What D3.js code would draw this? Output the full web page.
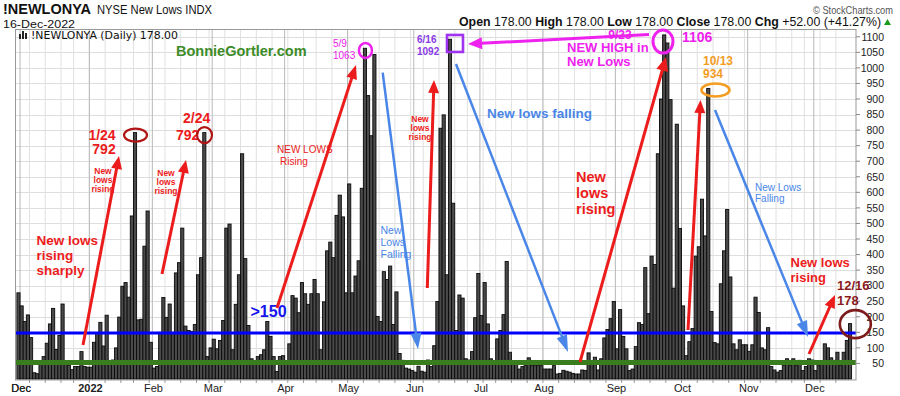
<!DOCTYPE html>
<html><head><meta charset="utf-8">
<script src="https://cdn.jsdelivr.net/npm/d3@7"></script>
<style>body{margin:0;background:#fff;} svg{display:block;}</style>
</head><body>
<svg id="c" width="900" height="396"></svg>
<script>
// ---------- DATA ----------
const newLows = [277,235,185,206,133,20,17,50,72,115, 177,227,95,140,241,52,45,30,40,40,
 88,40,38,38,118,149,182,106,205,50, 61,100,199,298,310,263,524,792,190,192,
 427,540,118,35,40,150,262,198,241,150, 341,374,485,170,156,153,175,335,390,792,
 72,100,128,97,124,188,485,498,94,240, 335,724,387,172,65,48,72,78,94,185,
 137,72,24,72,75,48,113,268,260,213, 310,274,240,274,320,274,94,248,412,440,
 390,526,591,521,277,627,277,331,380,613, 1063,911,782,1043,201,185,345,320,363,175,
 280,82,60,35,32,27,22,41,25,22, 61,40,107,249,806,849,335,1092,565,156,
 270,260,65,61,88,197,339,204,310,177, 65,54,129,156,207,378,86,48,48,32,
 40,43,68,43,43,43,43,32,32,32, 43,16,18,28,25,22,18,16,16,29,
 27,84,59,70,29,65,132,159,194,249, 97,223,137,97,27,32,104,181,175,358,
 210,395,368,724,900,1106,1080,898,292,819, 484,235,75,120,162,395,425,578,460,934,
 217,117,113,306,412,545,328,113,94,126, 110,110,89,110,263,214,100,94,165,40,
 29,22,27,45,65,43,65,43,60,27, 40,65,61,27,45,50,113,100,68,60,
 86,45,86,124,178];
const startDate = "2021-11-30";
const endDate = "2022-12-16";
const holidays = ["2021-12-24","2022-01-17","2022-02-21","2022-04-15","2022-05-30","2022-06-20","2022-07-04","2022-09-05","2022-11-24"];
const yTicks = [50,100,150,200,250,300,350,400,450,500,550,600,650,700,750,800,850,900,950,1000,1050,1100];
const greenLevel = 53;
const blueLevel = 148;

// ---------- trading calendar ----------
const fmt = d3.utcFormat("%Y-%m-%d");
const hol = new Set(holidays);
const days = [];
for (let d = d3.utcParse("%Y-%m-%d")(startDate); d <= d3.utcParse("%Y-%m-%d")(endDate); d = d3.utcDay.offset(d, 1)) {
  const wd = d.getUTCDay();
  if (wd === 0 || wd === 6 || hol.has(fmt(d))) continue;
  days.push(d);
}

// ---------- layout ----------
const L = 15.5, R = 856, T = 29.5, B = 380;
const svg = d3.select("#c");
const x = d3.scaleBand().domain(d3.range(newLows.length)).range([16.9, 851.6]).padding(0);
const y = d3.scaleLinear().domain([0, 1125]).range([379, 29]);
const cx = i => x(i) + x.bandwidth() / 2;

// grid
const grid = svg.append("g");
grid.selectAll("line.h").data(yTicks).join("line")
  .attr("x1", L).attr("x2", R).attr("y1", d => Math.round(y(d)) + 0.5).attr("y2", d => Math.round(y(d)) + 0.5)
  .attr("stroke", "#dedede").attr("stroke-width", 1);

const weekStarts = [], monthStarts = [];
days.forEach((d, i) => {
  if (i === 0) return;
  const p = days[i - 1];
  if (d.getUTCMonth() !== p.getUTCMonth()) monthStarts.push(i);
  if (d.getUTCDay() <= p.getUTCDay()) weekStarts.push(i);
});
grid.selectAll("line.w").data(weekStarts).join("line")
  .attr("x1", d => x(d)).attr("x2", d => x(d)).attr("y1", T).attr("y2", B)
  .attr("stroke", "#e0e0e0").attr("stroke-width", 1);
grid.selectAll("line.m").data(monthStarts).join("line")
  .attr("x1", d => x(d)).attr("x2", d => x(d)).attr("y1", T).attr("y2", B)
  .attr("stroke", "#b8b8b8").attr("stroke-width", 1);

// bars
svg.append("g").selectAll("rect").data(newLows).join("rect")
  .attr("x", (d, i) => x(i)).attr("width", x.bandwidth())
  .attr("y", d => y(d)).attr("height", d => y(0) - y(d))
  .attr("fill", "#4a4a4a").attr("stroke", "#0a0a0a").attr("stroke-width", 0.9);

// reference lines
svg.append("line").attr("x1", L).attr("x2", R).attr("y1", y(greenLevel)).attr("y2", y(greenLevel))
  .attr("stroke", "#3a7d1f").attr("stroke-width", 5);
svg.append("line").attr("x1", L).attr("x2", R).attr("y1", y(blueLevel)).attr("y2", y(blueLevel))
  .attr("stroke", "#0000ff").attr("stroke-width", 3);

// frame
svg.append("rect").attr("x", L).attr("y", T).attr("width", R - L).attr("height", B - T)
  .attr("fill", "none").attr("stroke", "#999");

// right axis
const ax = svg.append("g").attr("font-family", "Liberation Sans, Arial, sans-serif").attr("font-size", 10.5).attr("fill", "#222");
yTicks.forEach(v => {
  ax.append("line").attr("x1", R).attr("x2", R + 4).attr("y1", y(v)).attr("y2", y(v)).attr("stroke", "#888");
  ax.append("text").attr("x", 884).attr("y", y(v) + 3.8).attr("text-anchor", "end").text(v);
});
// bottom ticks & labels
weekStarts.forEach(i => svg.append("line").attr("x1", x(i)).attr("x2", x(i)).attr("y1", B).attr("y2", B + 3).attr("stroke", "#999"));
const monthFmt = d3.utcFormat("%b");
[1].concat(monthStarts).forEach(i => {
  if (i === 0 || i >= days.length) return;
  const d = days[i];
  const isYear = d.getUTCMonth() === 0;
  ax.append("text").attr("x", cx(i) - 0.5).attr("y", 392).attr("text-anchor", "middle")
    .attr("font-size", 11).attr("font-weight", isYear ? "bold" : "normal")
    .text(isYear ? d3.utcFormat("%Y")(d) : monthFmt(d));
});

// ---------- header ----------
const hf = "Liberation Sans, Arial, sans-serif";
const hdr = svg.append("g").attr("font-family", hf).attr("fill", "#111");
function fit(sel, len) { return sel.attr("textLength", len).attr("lengthAdjust", "spacingAndGlyphs"); }
fit(hdr.append("text").attr("x", 3).attr("y", 13.5).attr("font-size", 14.5).attr("font-weight", "bold").text("!NEWLONYA"), 88);
fit(hdr.append("text").attr("x", 97).attr("y", 13.5).attr("font-size", 12).text("NYSE New Lows  INDX"), 115);
fit(hdr.append("text").attr("x", 3).attr("y", 27.5).attr("font-size", 11.5).text("16-Dec-2022"), 72);
fit(hdr.append("text").attr("x", 813).attr("y", 14).attr("font-size", 10).attr("fill", "#555").text("© StockCharts.com"), 80);
const ohlc = hdr.append("text").attr("x", 459).attr("y", 26).attr("font-size", 12);
[["Open", " 178.00  "], ["High", " 178.00  "], ["Low", " 178.00  "], ["Close", " 178.00  "], ["Chg", " +52.00 (+41.27%)"]].forEach(([k, v]) => {
  ohlc.append("tspan").attr("font-weight", "bold").text(k);
  ohlc.append("tspan").text(v);
});
fit(ohlc, 422);
hdr.append("path").attr("d", "M884,25 L891,25 L887.5,19 Z").attr("fill", "#1a9a1a");

// legend in plot
const lg = svg.append("g");
[[19, 34, 2, 5], [22, 31, 2, 8], [25, 33, 2, 6]].forEach(([a, b, w, h]) => lg.append("rect").attr("x", a).attr("y", b).attr("width", w).attr("height", h).attr("fill", "#222"));
fit(lg.append("text").attr("x", 31).attr("y", 39).attr("font-family", "DejaVu Sans, Verdana, sans-serif").attr("font-size", 10.5).attr("fill", "#111")
  .text("!NEWLONYA (Daily) 178.00"), 147);

// ---------- annotations ----------
const A = svg.append("g").attr("font-family", "Liberation Sans, Arial, sans-serif");
function txt(lines, x0, y0, o) {
  const t = A.append("text").attr("x", x0).attr("y", y0).attr("font-size", o.size).attr("font-weight", o.bold ? "bold" : "normal")
    .attr("fill", o.color).attr("text-anchor", o.anchor || "start");
  if (o.family) t.attr("font-family", o.family);
  lines.forEach((s, k) => t.append("tspan").attr("x", x0).attr("dy", k ? o.lh : 0).text(s));
}
function arrow(x1, y1, x2, y2, color, w, hl, hw) {
  const a = Math.atan2(y2 - y1, x2 - x1), c = Math.cos(a), s = Math.sin(a);
  const bx = x2 - hl * c, by = y2 - hl * s;
  A.append("line").attr("x1", x1).attr("y1", y1).attr("x2", bx + c * 1).attr("y2", by + s * 1).attr("stroke", color).attr("stroke-width", w);
  A.append("path").attr("d", `M${x2},${y2} L${bx - hw / 2 * s},${by + hw / 2 * c} L${bx + hw / 2 * s},${by - hw / 2 * c} Z`).attr("fill", color);
}
function ell(i, dx, dy, rx, ry, color, w) {
  A.append("ellipse").attr("cx", cx(i) + dx).attr("cy", y(newLows[i]) + dy).attr("rx", rx).attr("ry", ry)
    .attr("fill", "none").attr("stroke", color).attr("stroke-width", w);
}
const RED = "#ec1c1c", BLUE = "#4a86e8", MAG = "#ee22ee", PUR = "#8a3ae6", ORG = "#f39c1f", DRED = "#8b1b1b";

txt(["BonnieGortler.com"], 176, 55.5, {size: 14.5, bold: true, color: "#3c8c28"});

// 1/24
txt(["1/24"], 102, 139.5, {size: 14, bold: true, color: RED, anchor: "middle"});
txt(["792"], 104, 154, {size: 14, bold: true, color: RED, anchor: "middle"});
ell(37, 0.5, 2.5, 11.5, 6.5, "#b01515", 2.2);
txt(["New", "lows", "rising"], 103, 174, {size: 8.5, bold: true, color: RED, anchor: "middle", lh: 9});
arrow(83, 345, 119, 156, RED, 3, 13, 11);
txt(["New lows", "rising", "sharply"], 36.5, 245, {size: 13.5, bold: true, color: RED, lh: 15});

// 2/24
txt(["2/24"], 183, 123, {size: 14, bold: true, color: RED});
txt(["792"], 176, 140, {size: 14, bold: true, color: RED});
ell(59, 0.2, 2.5, 7.5, 8, "#b01515", 2.2);
txt(["New", "lows", "rising"], 166, 176, {size: 8.5, bold: true, color: RED, anchor: "middle", lh: 9});
arrow(162, 274, 186, 160, RED, 3, 13, 11);

// >150
txt([">150"], 250.5, 317, {size: 16, bold: true, color: "#1414ee"});
// NEW LOWS Rising
txt(["NEW LOWS"], 277, 153, {size: 10, color: RED});
txt(["Rising"], 280, 165, {size: 10, color: RED});
arrow(277, 308, 356, 65, RED, 3, 14, 11);

// 5/9
txt(["5/9", "1063"], 333, 47, {size: 10, color: MAG, lh: 11.5});
ell(110, 0.5, 2.2, 6.5, 7.5, MAG, 2.5);
arrow(382.7, 72.7, 418, 349, BLUE, 2.5, 16, 11);
txt(["New", "Lows", "Falling"], 380.5, 234, {size: 10.5, color: BLUE, lh: 12});

// 6/16
txt(["6/16", "1092"], 417, 43, {size: 10, bold: true, color: PUR, lh: 12});
A.append("rect").attr("x", cx(137) - 3).attr("y", y(newLows[137]) - 4.3).attr("width", 16).attr("height", 17)
  .attr("fill", "none").attr("stroke", "#a033f0").attr("stroke-width", 2.6);
txt(["New", "lows", "rising"], 420, 121.5, {size: 8.5, bold: true, color: RED, anchor: "middle", lh: 9});
arrow(427.3, 288, 434, 80, RED, 3, 13, 11);
arrow(649, 34.5, 468, 44, MAG, 3, 14, 12);
txt(["New lows falling"], 487, 118, {size: 13.5, bold: true, color: BLUE});
arrow(456, 64, 568, 352, BLUE, 2.5, 17, 11);

// 9/23
txt(["New", "lows", "rising"], 576, 181.5, {size: 14.5, bold: true, color: RED, lh: 16});
arrow(580, 362, 666, 57, RED, 3, 14, 12);
txt(["9/23"], 620, 38.5, {size: 12, bold: true, color: MAG, anchor: "middle"});
txt(["NEW HIGH in", "New Lows"], 567, 52, {size: 13, bold: true, color: MAG, lh: 13.5});
ell(205, -1.2, 6.6, 10, 11.5, MAG, 3);
txt(["1106"], 682, 41.5, {size: 14, bold: true, color: MAG});

// 10/13
txt(["10/13", "934"], 703, 65, {size: 12, bold: true, color: ORG, lh: 13});
ell(219, 7.2, 1.6, 14, 6.5, ORG, 2.6);
arrow(688, 330, 700.5, 100, RED, 3, 13, 11);
arrow(715, 110, 808, 337, BLUE, 2.5, 16, 11);
txt(["New Lows", "Falling"], 755, 190.5, {size: 10, color: BLUE, lh: 11.5});

// 12/16
txt(["New lows", "rising"], 790.5, 267, {size: 13, bold: true, color: RED, lh: 14.5});
arrow(809, 354, 835, 295, RED, 3, 13, 11);
txt(["12/16", "178"], 837, 290, {size: 13, bold: true, color: DRED, lh: 15});
ell(264, 5.3, 0.5, 15.5, 14, "#7d1a1a", 2.6);
</script>
</body></html>
